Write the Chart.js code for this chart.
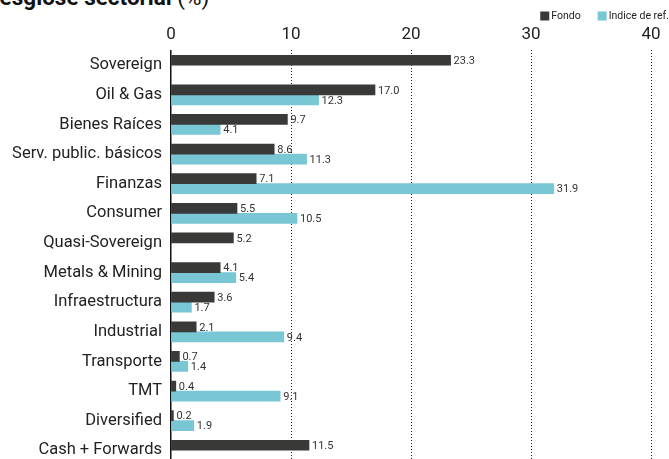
<!DOCTYPE html>
<html>
<head>
<meta charset="utf-8">
<script src="https://cdn.jsdelivr.net/npm/chart.js@4"></script>
<style>
  html, body { margin: 0; padding: 0; background: #fff; overflow: hidden; }
  body { width: 669px; height: 459px; position: relative; }
  #title {
    position: absolute; left: -15px; top: -14px;
    font-family: Roboto, sans-serif; font-size: 22.5px; line-height: 1; color: #111;
    white-space: nowrap;
  }
  #title b { font-weight: 700; }
  #wrap { position: absolute; left: 0; top: 0; }
</style>
</head>
<body>
<div id="title"><b>Desglose sectorial</b> (%)</div>
<div id="wrap"><canvas id="sectorChart" width="679" height="484"></canvas></div>
<script>
// ================================
// DATA
// ================================
const categories = [
  'Sovereign', 'Oil & Gas', 'Bienes Raíces', 'Serv. public. básicos',
  'Finanzas', 'Consumer', 'Quasi-Sovereign', 'Metals & Mining',
  'Infraestructura', 'Industrial', 'Transporte', 'TMT',
  'Diversified', 'Cash + Forwards'
];
const fondo = [23.3, 17.0, 9.7, 8.6, 7.1, 5.5, 5.2, 4.1, 3.6, 2.1, 0.7, 0.4, 0.2, 11.5];
const indiceRef = [null, 12.3, 4.1, 11.3, 31.9, 10.5, null, 5.4, 1.7, 9.4, 1.4, 9.1, 1.9, null];
const xTicks = [0, 10, 20, 30, 40];

// ================================
// CONFIG
// ================================
const COLORS = {
  fondo: '#393937',
  indice: '#79c6d5',
  text: '#222222'
};
const FONT = 'Roboto, "Liberation Sans", sans-serif';

// value labels at the end of each bar
const barLabels = {
  id: 'barLabels',
  afterDatasetsDraw(chart) {
    const { ctx } = chart;
    ctx.save();
    ctx.font = `11px ${FONT}`;
    ctx.fillStyle = '#333';
    ctx.textAlign = 'left';
    ctx.textBaseline = 'middle';
    chart.data.datasets.forEach((ds, i) => {
      chart.getDatasetMeta(i).data.forEach((bar, j) => {
        const v = ds.data[j];
        if (v === null || v === undefined) return;
        ctx.fillText(v.toFixed(1), bar.x + 3, bar.y + 1);
      });
    });
    ctx.restore();
  }
};

// small legend in the top right corner, right aligned to the page edge
const cornerLegend = {
  id: 'cornerLegend',
  afterDraw(chart) {
    const { ctx } = chart;
    const items = chart.data.datasets.map(ds => ({ text: ds.label, color: ds.backgroundColor }));
    ctx.save();
    ctx.font = `10.5px ${FONT}`;
    ctx.textBaseline = 'middle';
    ctx.textAlign = 'left';
    let x = 669;
    const y = 16;
    for (let i = items.length - 1; i >= 0; i--) {
      const it = items[i];
      const w = ctx.measureText(it.text).width;
      x -= w;
      ctx.fillStyle = COLORS.text;
      ctx.fillText(it.text, x, y + 0.5);
      x -= 2 + 9;
      ctx.fillStyle = it.color;
      ctx.fillRect(x, y - 4.5, 9, 9);
      x -= 17;
    }
    ctx.restore();
  }
};

// ================================
// CHART
// ================================
new Chart(document.getElementById('sectorChart'), {
  type: 'bar',
  data: {
    labels: categories,
    datasets: [
      { label: 'Fondo', data: fondo, backgroundColor: COLORS.fondo, barThickness: 10 },
      { label: 'Indice de ref.', data: indiceRef, backgroundColor: COLORS.indice, barThickness: 10 }
    ]
  },
  options: {
    indexAxis: 'y',
    responsive: false,
    animation: false,
    layout: { padding: { top: 19, right: 0, bottom: 0, left: 0 } },
    plugins: {
      tooltip: { enabled: false },
      legend: { display: false }
    },
    scales: {
      x: {
        position: 'top',
        min: 0,
        max: (679 - 171) / 12,
        afterBuildTicks: (scale) => {
          scale.ticks = xTicks.map(v => ({ value: v }));
        },
        border: { display: false, dash: [1, 2] },
        grid: {
          drawTicks: false,
          color: (c) => (c.tick && c.tick.value === 0 ? 'rgba(0,0,0,0)' : '#222'),
          lineWidth: 1
        },
        ticks: {
          padding: 5.5,
          color: COLORS.text,
          font: { family: FONT, size: 17, lineHeight: 1.2 },
          maxRotation: 0
        }
      },
      y: {
        afterFit: (scale) => { scale.width = 171; },
        border: { display: true, color: '#111', width: 1.5 },
        grid: { display: false, drawTicks: false },
        ticks: {
          padding: 9,
          color: COLORS.text,
          font: { family: FONT, size: 16.5 }
        }
      }
    }
  },
  plugins: [barLabels, cornerLegend]
});
</script>
</body>
</html>
